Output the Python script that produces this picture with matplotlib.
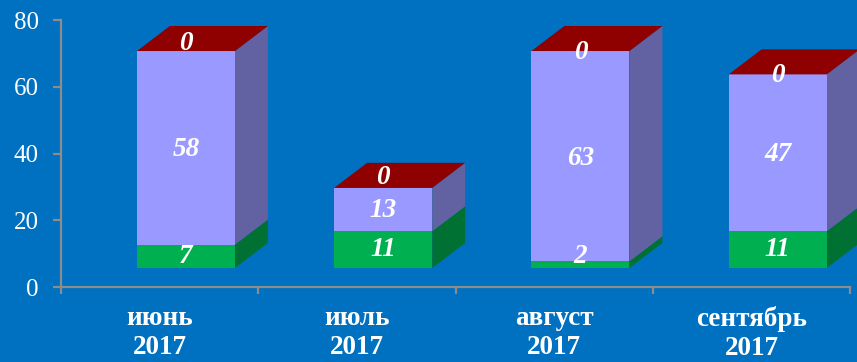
import numpy as np
import matplotlib
matplotlib.use("Agg")
import matplotlib.pyplot as plt
from matplotlib.patches import Polygon

# data
months = ["июнь\n2017", "июль\n2017", "август\n2017", "сентябрь\n2017"]
green_vals = [7, 11, 2, 11]
lavender_vals = [58, 13, 63, 47]
red_vals = [0, 0, 0, 0]

# look
bg = "#0070C0"
front_cols = ["#00B050", "#9999FF", "#8F0000"]
side_cols = ["#007033", "#6262A2", "#8F0000"]
top_col = "#8F0000"
axis_col = "#8C8C8C"

base = 5.7        # front face floor, in value units
dx, dy = 0.167, 7.5   # depth offset of the 3D box
bar_left, bar_w = 0.385, 0.497
# small vertical nudges (px) of the value labels, per series per bar
nudge = [[0, 0, -8, 0], [2, 1, 2, 2], [-8, -10, 1, 1]]

plt.rcParams["font.family"] = ["Liberation Serif", "DejaVu Serif"]

fig = plt.figure(figsize=(8.57, 3.62), dpi=100, facecolor=bg)
ax = fig.add_axes([61 / 857, 1 - 287 / 362, (850 - 61) / 857, 267 / 362])
ax.set_facecolor(bg)
ax.set_xlim(0, 4)
ax.set_ylim(0, 80)

x = np.arange(len(months))
series = [green_vals, lavender_vals, red_vals]
bottoms = np.full(len(months), base, dtype=float)
px_per_unit = 267 / 80

for s, vals in enumerate(series):
    vals = np.array(vals, dtype=float)
    ax.bar(x + bar_left, vals, width=bar_w, bottom=bottoms, align="edge",
           color=front_cols[s], edgecolor="none", zorder=3)
    for i in range(len(x)):
        xr = x[i] + bar_left + bar_w
        y0, y1 = bottoms[i], bottoms[i] + vals[i]
        if vals[i] > 0:
            side = Polygon([(xr, y0), (xr + dx, y0 + dy), (xr + dx, y1 + dy), (xr, y1)],
                           closed=True, facecolor=side_cols[s], edgecolor="none",
                           zorder=2, clip_on=False)
            ax.add_patch(side)
        ymid = (y0 + y1) / 2 - nudge[s][i] / px_per_unit
        ax.text(x[i] + bar_left + bar_w / 2, ymid, f"{int(vals[i])}", color="white",
                fontsize=19.5, fontweight="bold", fontstyle="italic",
                ha="center", va="center", zorder=5)
    bottoms = bottoms + vals

# top faces
for i in range(len(x)):
    xl = x[i] + bar_left
    xr = xl + bar_w
    t = bottoms[i]
    top = Polygon([(xl, t), (xl + dx, t + dy), (xr + dx, t + dy), (xr, t)],
                  closed=True, facecolor=top_col, edgecolor="none", zorder=4, clip_on=False)
    ax.add_patch(top)

for sp in ["top", "right"]:
    ax.spines[sp].set_visible(False)
for sp in ["left", "bottom"]:
    ax.spines[sp].set_color(axis_col)
    ax.spines[sp].set_linewidth(1.6)

ax.set_yticks([0, 20, 40, 60, 80])
ax.tick_params(axis="y", colors=axis_col, length=6, width=1.6, direction="out", pad=10,
               labelcolor="white", labelsize=18)
ax.set_xticks(np.arange(0, 5))
ax.set_xticklabels([])
ax.tick_params(axis="x", which="major", colors=axis_col, length=5, width=1.6, direction="out")
ax.set_xticks(x + 0.5, minor=True)
ax.set_xticklabels(months, minor=True, fontsize=19.5, fontweight="bold", color="white",
                   linespacing=1.17)
ax.tick_params(axis="x", which="minor", length=0, pad=14)

fig.savefig("out.png", dpi=100, facecolor=bg)
